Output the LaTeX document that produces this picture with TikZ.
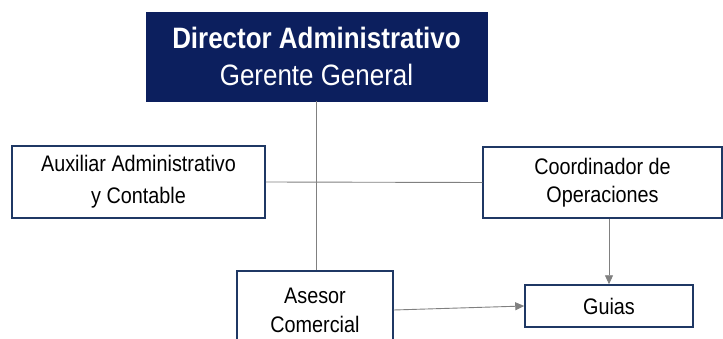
\documentclass[tikz,border=0pt]{standalone}
\usepackage{fontspec}
\setmainfont{Liberation Sans}[FakeStretch=0.88]
\usetikzlibrary{arrows.meta}

\definecolor{navy}{RGB}{12,31,94}
\definecolor{boxblue}{RGB}{31,56,100}
\definecolor{linegray}{RGB}{128,128,128}

\begin{document}
\begin{tikzpicture}[x=1pt,y=1pt,
    headbox/.style={fill=navy, draw=navy, text=white, align=center,
      inner sep=0pt, font=\fontsize{29.5}{36.7}\selectfont},
    staffbox/.style={draw=boxblue, line width=1.5pt, fill=white, align=center,
      inner sep=0pt, font=\fontsize{22.5}{29}\selectfont},
    link/.style={draw=linegray, line width=0.9pt},
    arrow/.style={link, -{Triangle[length=9pt,width=8pt]}, linegray}]
      \useasboundingbox (0,0) rectangle (723,338);

      % boxes
      \node[headbox, minimum width=341, minimum height=89] (dir) at (316.5,281.5)
        {\textbf{Director Administrativo}\\Gerente General};
      \node[staffbox, minimum width=253, minimum height=72,
        font=\fontsize{22.5}{32}\selectfont] (aux) at (138.5,156)
        {Auxiliar Administrativo\\y Contable};
      \node[staffbox, minimum width=239, minimum height=71,
        font=\fontsize{22.5}{27.4}\selectfont] (coo) at (602.5,155.5)
        {Coordinador de\\Operaciones};
      \node[staffbox, minimum width=156, minimum height=78] (ase) at (315,28)
        {Asesor\\Comercial};
      \node[staffbox, minimum width=168, minimum height=42] (gui) at (609,32)
        {Guias};

      % connectors
      \draw[link] (dir.south) -- (dir.south |- ase.north); % vertical spine
      \draw[link] (aux.east) -- (coo.west); % staff line
      \draw[arrow] (gui.north |- coo.south) -- (gui.north);
      \draw[arrow] (ase.east) -- (gui.west);
\end{tikzpicture}
\end{document}
